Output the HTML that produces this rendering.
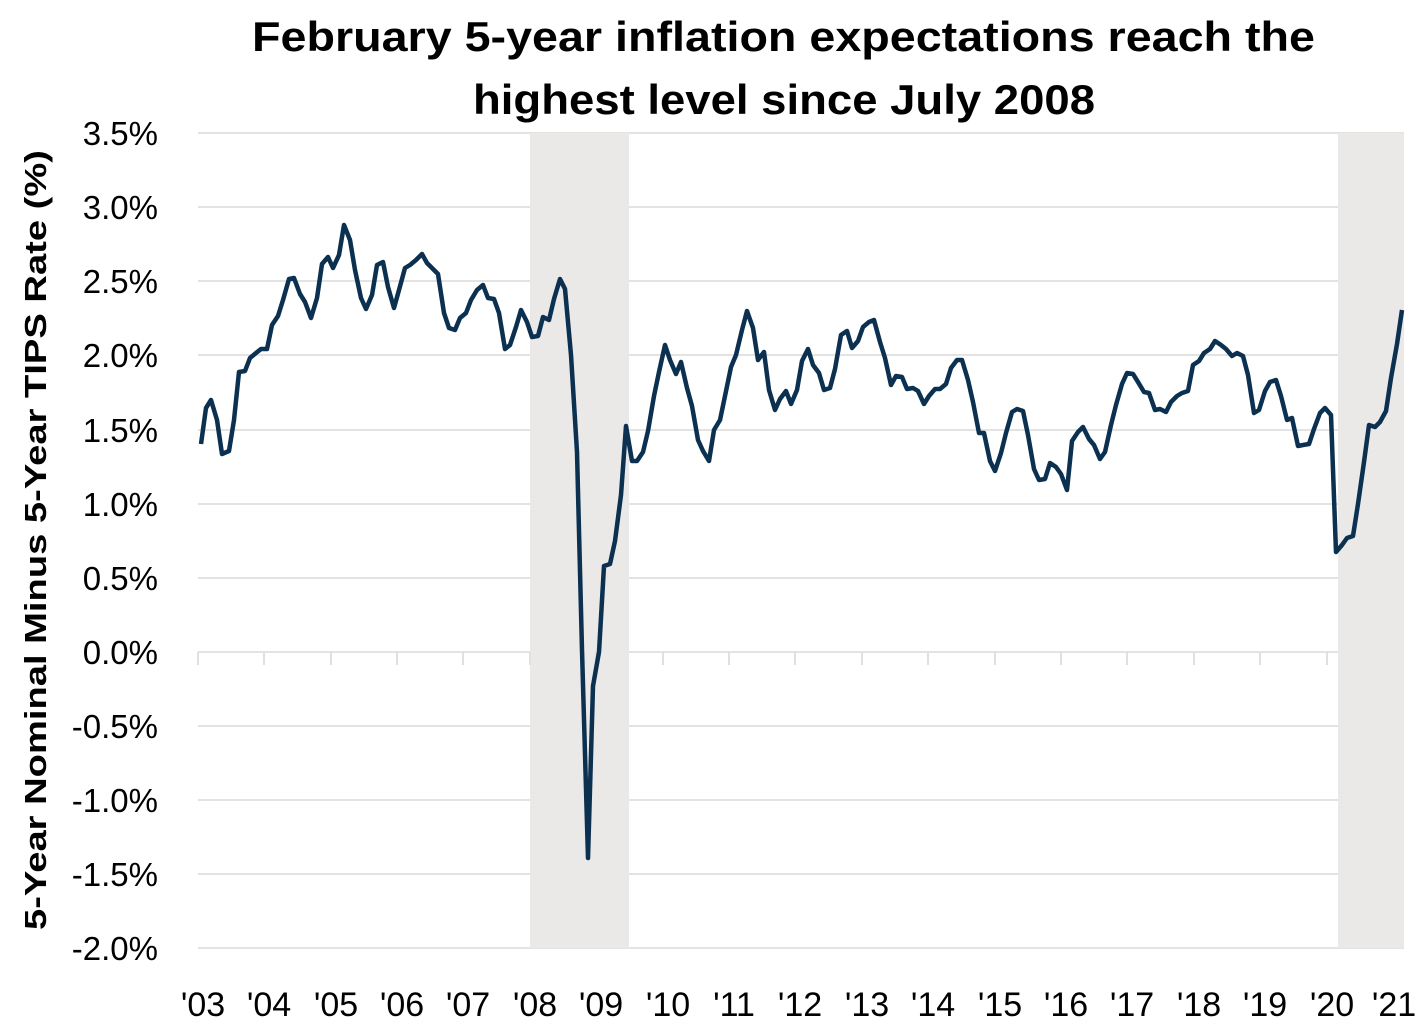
<!DOCTYPE html>
<html><head><meta charset="utf-8"><style>
html,body{margin:0;padding:0;background:#fff;}
svg{display:block;}
</style></head><body>
<svg width="1421" height="1032" xmlns="http://www.w3.org/2000/svg" font-family="'Liberation Sans', sans-serif">
<rect width="1421" height="1032" fill="#fff"/>
<text x="252" y="51" textLength="1063" lengthAdjust="spacingAndGlyphs" font-size="42" font-weight="bold" fill="#000">February 5-year inflation expectations reach the</text>
<text x="473" y="114" textLength="622" lengthAdjust="spacingAndGlyphs" font-size="42" font-weight="bold" fill="#000">highest level since July 2008</text>
<g stroke="#e3e3e3" stroke-width="2">
<line x1="198" x2="1404" y1="133" y2="133"/>
<line x1="198" x2="1404" y1="207" y2="207"/>
<line x1="198" x2="1404" y1="281" y2="281"/>
<line x1="198" x2="1404" y1="355" y2="355"/>
<line x1="198" x2="1404" y1="430" y2="430"/>
<line x1="198" x2="1404" y1="504" y2="504"/>
<line x1="198" x2="1404" y1="578" y2="578"/>
<line x1="198" x2="1404" y1="652" y2="652"/>
<line x1="198" x2="1404" y1="726" y2="726"/>
<line x1="198" x2="1404" y1="800" y2="800"/>
<line x1="198" x2="1404" y1="874" y2="874"/>
<line x1="198" x2="1404" y1="948" y2="948"/>
</g>
<rect x="530" y="133" width="99" height="815" fill="#ebe9e7"/>
<rect x="1338" y="133" width="66" height="815" fill="#ebe9e7"/>
<g stroke="#e0e0e0" stroke-width="2">
<line x1="198" x2="198" y1="652" y2="665"/><line x1="264" x2="264" y1="652" y2="665"/>
<line x1="331" x2="331" y1="652" y2="665"/><line x1="397" x2="397" y1="652" y2="665"/>
<line x1="463" x2="463" y1="652" y2="665"/><line x1="530" x2="530" y1="652" y2="665"/>
<line x1="596" x2="596" y1="652" y2="665"/><line x1="663" x2="663" y1="652" y2="665"/>
<line x1="729" x2="729" y1="652" y2="665"/><line x1="795" x2="795" y1="652" y2="665"/>
<line x1="862" x2="862" y1="652" y2="665"/><line x1="928" x2="928" y1="652" y2="665"/>
<line x1="995" x2="995" y1="652" y2="665"/><line x1="1061" x2="1061" y1="652" y2="665"/>
<line x1="1127" x2="1127" y1="652" y2="665"/><line x1="1194" x2="1194" y1="652" y2="665"/>
<line x1="1260" x2="1260" y1="652" y2="665"/><line x1="1327" x2="1327" y1="652" y2="665"/>
</g>
<g font-size="33" fill="#000" text-anchor="end">
<text x="158" y="145">3.5%</text><text x="158" y="219">3.0%</text><text x="158" y="293">2.5%</text>
<text x="158" y="367">2.0%</text><text x="158" y="442">1.5%</text><text x="158" y="516">1.0%</text>
<text x="158" y="590">0.5%</text><text x="158" y="664">0.0%</text><text x="158" y="738">-0.5%</text>
<text x="158" y="812">-1.0%</text><text x="158" y="886">-1.5%</text><text x="158" y="960">-2.0%</text>
</g>
<g font-size="34" fill="#000" text-anchor="middle">
<text x="203" y="1016">'03</text><text x="269" y="1016">'04</text><text x="336" y="1016">'05</text>
<text x="402" y="1016">'06</text><text x="468" y="1016">'07</text><text x="535" y="1016">'08</text>
<text x="601" y="1016">'09</text><text x="668" y="1016">'10</text><text x="734" y="1016">'11</text>
<text x="800" y="1016">'12</text><text x="867" y="1016">'13</text><text x="933" y="1016">'14</text>
<text x="1000" y="1016">'15</text><text x="1066" y="1016">'16</text><text x="1132" y="1016">'17</text>
<text x="1199" y="1016">'18</text><text x="1265" y="1016">'19</text><text x="1332" y="1016">'20</text>
<text x="1394" y="1016">'21</text>
</g>
<text transform="translate(46,930) rotate(-90)" x="0" y="0" textLength="780" lengthAdjust="spacingAndGlyphs" font-size="31" font-weight="bold" fill="#000">5-Year Nominal Minus 5-Year TIPS Rate (%)</text>
<polyline fill="none" stroke="#0b3050" stroke-width="4.5" stroke-linejoin="round" points="201,444 206,408 211,400 217,420 222,454 229,451 234,420 239,372 245,371 250,358 256,353 261,349 267,349 272,325 278,316 283,300 289,279 294,278 300,294 305,302 311,318 317,298 322,264 328,257 333,268 339,255 344,225 350,240 355,270 361,298 366,309 372,295 377,265 383,262 388,287 394,308 399,290 405,268 410,265 416,260 422,254 427,263 433,269 438,274 444,313 449,328 455,330 460,318 466,313 471,300 477,290 483,285 488,298 494,299 499,313 505,349 510,345 516,327 521,310 527,322 532,337 538,336 543,317 549,320 554,299 560,279 565,289 571,355 577,452 582,650 588,858 593,686 599,652 604,566 610,564 615,541 621,495 626,426 632,461 637,461 643,452 648,431 654,396 659,372 665,345 670,360 676,374 681,362 687,388 692,406 698,440 703,451 709,461 714,430 720,420 725,396 731,367 736,355 742,330 747,311 753,328 758,360 764,352 769,390 775,410 780,399 786,391 791,404 797,390 802,361 808,349 813,365 819,373 824,390 830,388 835,369 841,335 847,331 852,348 858,341 863,327 869,322 874,320 880,342 885,358 891,385 896,376 902,377 907,389 913,388 918,391 924,404 929,396 935,389 940,389 946,384 951,368 957,360 962,360 968,380 973,402 979,433 984,433 990,461 995,471 1001,453 1006,433 1012,412 1017,409 1023,411 1028,435 1034,469 1039,480 1045,479 1050,463 1056,467 1061,474 1067,490 1072,441 1078,432 1083,427 1089,439 1094,445 1100,459 1105,452 1111,425 1116,405 1122,384 1127,373 1133,374 1138,382 1144,392 1149,393 1155,410 1160,409 1166,412 1171,402 1177,396 1182,393 1188,391 1193,365 1199,361 1204,353 1210,349 1215,341 1221,345 1226,349 1232,356 1237,353 1243,356 1248,375 1254,413 1259,410 1265,391 1270,382 1276,380 1281,396 1287,420 1292,418 1298,446 1303,445 1309,444 1314,429 1320,413 1325,408 1331,415 1336,552 1342,545 1347,538 1353,536 1358,504 1364,462 1369,425 1375,427 1380,422 1386,411 1391,378 1397,344 1402,310"/>
</svg>
</body></html>
